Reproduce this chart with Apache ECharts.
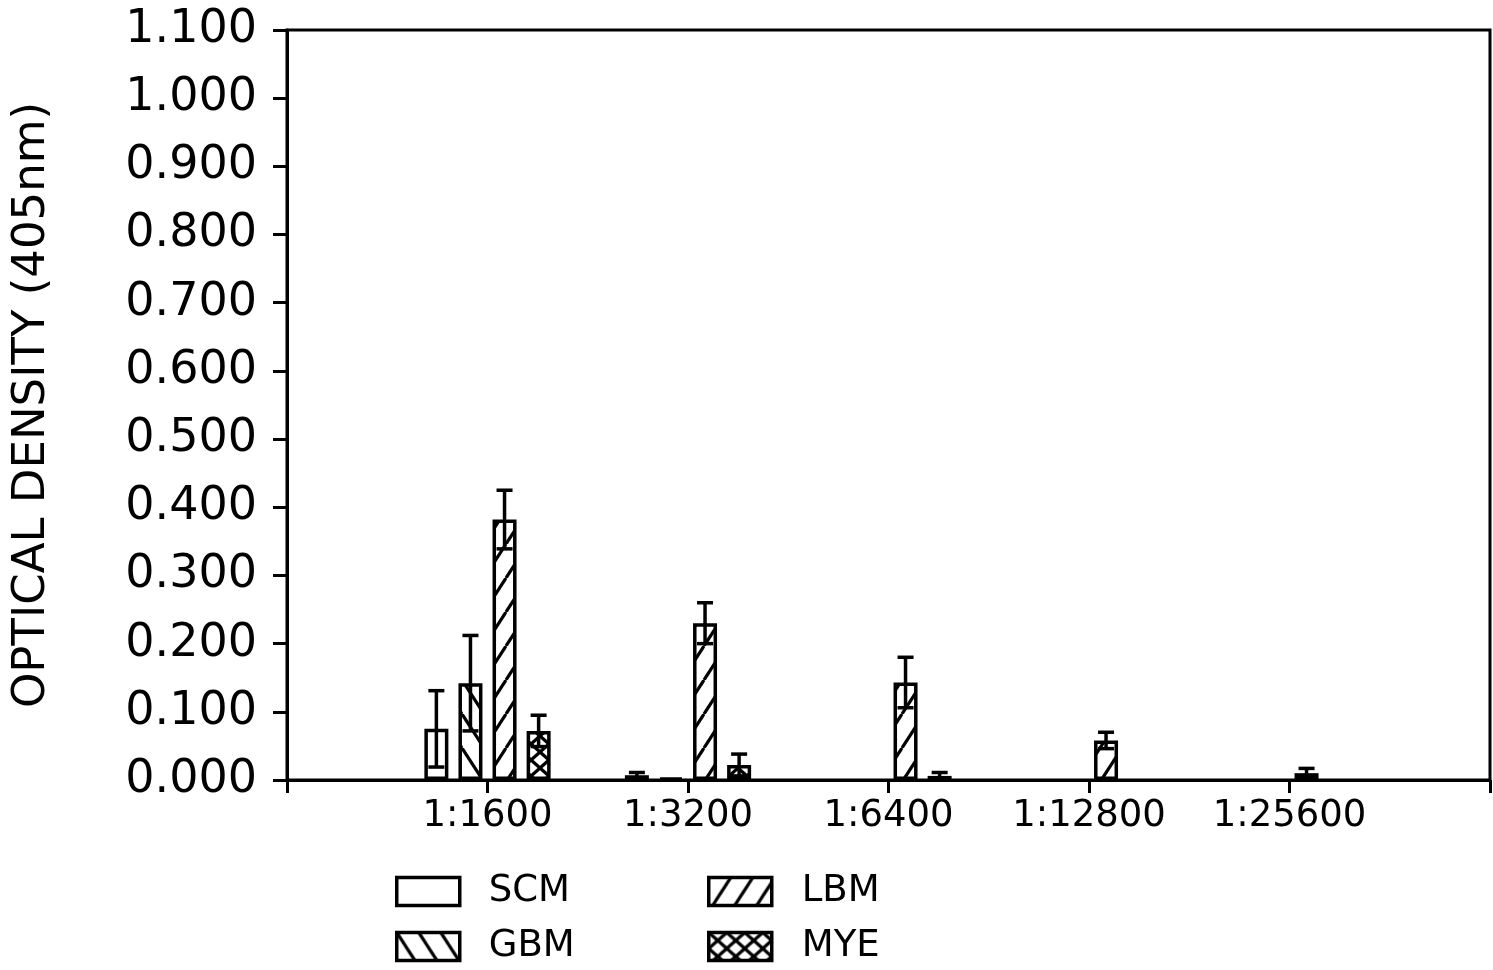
<!DOCTYPE html>
<html>
<head>
<meta charset="utf-8">
<script src="https://cdn.jsdelivr.net/npm/echarts@6/dist/echarts.min.js"></script>
<style>
html,body{margin:0;padding:0;background:#fff;}
#chart{width:1493px;height:970px;}
</style>
</head>
<body>
<div id="chart"></div>
<script>
// ---- data ----
const categories = ['', '1:1600', '1:3200', '1:6400', '1:12800', '1:25600', ''];
const seriesNames = ['SCM', 'GBM', 'LBM', 'MYE'];
const scmValues = [null, 0.075, 0.007, null, null, null, null];
const scmErrors = [null, 0.056, 0.004, null, null, null, null];
const gbmValues = [null, 0.142, 0.003, null, null, null, null];
const gbmErrors = [null, 0.070, 0.000, null, null, null, null];
const lbmValues = [null, 0.382, 0.230, 0.143, 0.058, 0.010, null];
const lbmErrors = [null, 0.043, 0.030, 0.037, 0.012, 0.007, null];
const myeValues = [null, 0.072, 0.022, 0.006, null, null, null];
const myeErrors = [null, 0.023, 0.016, 0.005, null, null, null];
const yTicks = [0, 0.1, 0.2, 0.3, 0.4, 0.5, 0.6, 0.7, 0.8, 0.9, 1.0, 1.1];

const allValues = [scmValues, gbmValues, lbmValues, myeValues];
const allErrors = [scmErrors, gbmErrors, lbmErrors, myeErrors];

// ---- styles ----
const FONT = 'DejaVu Sans';
const BAR_W = 24;
const BAR_GAP = 0.42;
const BAR_STEP = BAR_W * (1 + BAR_GAP);
const LW = 3.5;

function hatch(w, h, dirs) {
  const c = document.createElement('canvas');
  c.width = w; c.height = h;
  const g = c.getContext('2d');
  g.fillStyle = '#fff'; g.fillRect(0, 0, w, h);
  g.strokeStyle = '#000'; g.lineWidth = 3.2; g.lineCap = 'butt';
  dirs.forEach(d => {
    for (let k = -1; k <= 1; k++) {
      g.beginPath();
      if (d === '/') { g.moveTo(k * w, h); g.lineTo((k + 1) * w, 0); }
      else { g.moveTo(k * w, 0); g.lineTo((k + 1) * w, h); }
      g.stroke();
    }
  });
  return c;
}
const fills = [
  '#fff',
  { image: hatch(22, 34, ['\\']), repeat: 'repeat' },
  { image: hatch(22, 34, ['/']), repeat: 'repeat' },
  { image: hatch(18, 16, ['/', '\\']), repeat: 'repeat' }
];

const barSeries = seriesNames.map((n, s) => ({
  type: 'bar', name: n, data: allValues[s],
  barWidth: BAR_W, barGap: (BAR_GAP * 100) + '%',
  itemStyle: { color: fills[s], borderColor: '#000', borderWidth: LW },
  z: 3, animation: false
}));

const errSeries = seriesNames.map((n, s) => ({
  type: 'custom', name: n + ' err', z: 5, animation: false, silent: true,
  data: allValues[s].map((v, i) => (v == null ? null : [i, v, allErrors[s][i]])).filter(d => d),
  encode: { x: 0, y: 1 },
  renderItem: (params, api) => {
    const i = api.value(0), v = api.value(1), e = api.value(2);
    if (!e) return null;
    const off = (s - 1.5) * BAR_STEP;
    const lo = Math.max(0, v - e);
    const t = api.coord([i, v + e]);
    const b = api.coord([i, lo]);
    const x = t[0] + off;
    const st = { stroke: '#000', lineWidth: LW };
    const cw = 8;
    const ch = [
      { type: 'line', shape: { x1: x, y1: t[1], x2: x, y2: b[1] }, style: st },
      { type: 'line', shape: { x1: x - cw, y1: t[1], x2: x + cw, y2: t[1] }, style: st }
    ];
    if (lo > 0) ch.push({ type: 'line', shape: { x1: x - cw, y1: b[1], x2: x + cw, y2: b[1] }, style: st });
    return { type: 'group', children: ch };
  }
}));

const legendPos = [[395, 873, 24], [395, 928, 24], [707, 873, 25], [707, 928, 25]];
const legends = seriesNames.map((n, s) => ({
  orient: 'horizontal', left: legendPos[s][0], top: legendPos[s][1], padding: 0,
  itemWidth: 63, itemHeight: 28, icon: 'rect', data: [n],
  itemStyle: { borderColor: '#000', borderWidth: LW },
  textStyle: { fontFamily: FONT, fontSize: 37, color: '#000', padding: [0, 0, 0, legendPos[s][2]] }
}));

const chart = echarts.init(document.getElementById('chart'), null, { renderer: 'canvas' });
chart.setOption({
  backgroundColor: '#fff',
  animation: false,
  textStyle: { fontFamily: FONT, color: '#000' },
  grid: { left: 287, right: 3, top: 30, bottom: 190, show: true, borderColor: '#000', borderWidth: 3, backgroundColor: 'transparent' },
  legend: legends,
  xAxis: {
    type: 'category', data: categories, boundaryGap: false,
    axisLine: { lineStyle: { color: '#000', width: 3 } },
    axisTick: { show: true, length: 13, lineStyle: { color: '#000', width: 3 } },
    axisLabel: { fontFamily: FONT, fontSize: 37, color: '#000', margin: 18, interval: 0 },
    splitLine: { show: false }
  },
  yAxis: {
    type: 'value', min: 0, max: 1.1, interval: 0.1,
    name: 'OPTICAL DENSITY (405nm)', nameLocation: 'middle', nameGap: 232, nameRotate: 90,
    nameTextStyle: { fontFamily: FONT, fontSize: 45, color: '#000' },
    axisLine: { show: true, lineStyle: { color: '#000', width: 3 } },
    axisTick: { show: true, length: 14, lineStyle: { color: '#000', width: 3 } },
    axisLabel: { fontFamily: FONT, fontSize: 46, color: '#000', margin: 30, formatter: v => v.toFixed(3) },
    splitLine: { show: false }
  },
  series: barSeries.concat(errSeries)
});
</script>
</body>
</html>
